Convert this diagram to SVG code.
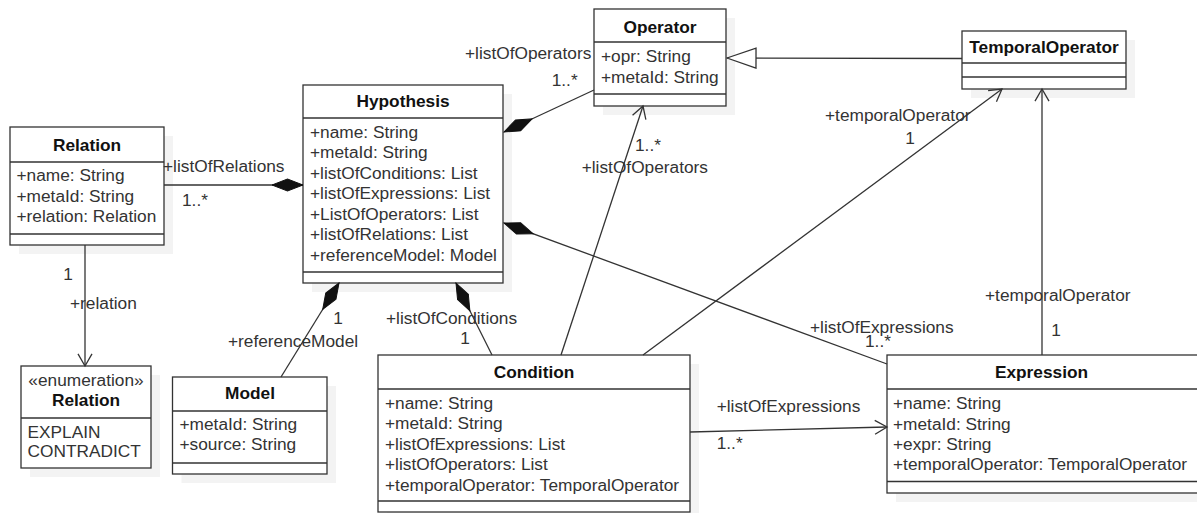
<svg xmlns="http://www.w3.org/2000/svg" width="1197" height="513" viewBox="0 0 1197 513">
  <style>
    .shadow { fill: #f3f3f3; }
    .box { fill: #ffffff; stroke: #333333; stroke-width: 1.3; }
    .sep { stroke: #333333; stroke-width: 1.3; }
    .t { font-family: "Liberation Sans", Arial, Helvetica, sans-serif; font-size: 17.3px; fill: #333333; }
    .h { font-weight: bold; fill: #111111; text-anchor: middle; }
    .c { text-anchor: middle; }
    .edge { fill: none; stroke: #333333; stroke-width: 1.3; }
  </style>
  <defs>
    <!-- navigable association end -->
    <marker id="open" viewBox="0 0 16 16" refX="14" refY="8" markerWidth="16" markerHeight="16" markerUnits="userSpaceOnUse" orient="auto">
      <path d="M1.9,1 L14,8 L1.9,15" fill="none" stroke="#333333" stroke-width="1.3"/>
    </marker>
    <!-- composition end (whole side) -->
    <marker id="diamond" viewBox="-1 -1 34 16" refX="0" refY="6.5" markerWidth="34" markerHeight="16" markerUnits="userSpaceOnUse" orient="auto">
      <path d="M0,6.5 L15.5,0.5 L31,6.5 L15.5,12.5 Z" fill="#111111" stroke="#111111" stroke-width="1"/>
    </marker>
    <!-- generalization end -->
    <marker id="triangle" viewBox="0 0 31 22" refX="30" refY="11" markerWidth="31" markerHeight="22" markerUnits="userSpaceOnUse" orient="auto">
      <path d="M1,1 L30,11 L1,21 Z" fill="#ffffff" stroke="#333333" stroke-width="1.3"/>
    </marker>
  </defs>

  <g id="operator">
    <rect class="shadow" x="603" y="18" width="132" height="97"/>
    <rect class="box" x="594" y="9" width="132" height="97"/>
    <line class="sep" x1="594" y1="42" x2="726" y2="42"/>
    <line class="sep" x1="594" y1="94" x2="726" y2="94"/>
    <text class="t h" x="660" y="32.5">Operator</text>
    <text class="t" x="601" y="62">+opr: String</text>
    <text class="t" x="601" y="82.5">+metaId: String</text>
  </g>

  <g id="temporal-operator">
    <rect class="shadow" x="971" y="40" width="164" height="58"/>
    <rect class="box" x="962" y="31" width="164" height="58"/>
    <line class="sep" x1="962" y1="63" x2="1126" y2="63"/>
    <line class="sep" x1="962" y1="77" x2="1126" y2="77"/>
    <text class="t h" x="1044" y="53">TemporalOperator</text>
  </g>

  <g id="hypothesis">
    <rect class="shadow" x="312" y="94" width="200" height="198"/>
    <rect class="box" x="303" y="85" width="200" height="198"/>
    <line class="sep" x1="303" y1="118" x2="503" y2="118"/>
    <line class="sep" x1="303" y1="272" x2="503" y2="272"/>
    <text class="t h" x="403" y="107">Hypothesis</text>
    <text class="t" x="310" y="137.7">+name: String</text>
    <text class="t" x="310" y="158.2">+metaId: String</text>
    <text class="t" x="310" y="178.8">+listOfConditions: List</text>
    <text class="t" x="310" y="199.3">+listOfExpressions: List</text>
    <text class="t" x="310" y="219.9">+ListOfOperators: List</text>
    <text class="t" x="310" y="240.4">+listOfRelations: List</text>
    <text class="t" x="310" y="261">+referenceModel: Model</text>
  </g>

  <g id="relation">
    <rect class="shadow" x="19" y="136" width="154" height="118"/>
    <rect class="box" x="10" y="127" width="154" height="118"/>
    <line class="sep" x1="10" y1="162" x2="164" y2="162"/>
    <line class="sep" x1="10" y1="234" x2="164" y2="234"/>
    <text class="t h" x="87" y="151">Relation</text>
    <text class="t" x="16.5" y="181">+name: String</text>
    <text class="t" x="16.5" y="201.5">+metaId: String</text>
    <text class="t" x="16.5" y="222">+relation: Relation</text>
  </g>

  <g id="relation-enum">
    <rect class="shadow" x="30" y="375" width="130" height="102"/>
    <rect class="box" x="21" y="366" width="130" height="102"/>
    <line class="sep" x1="21" y1="418" x2="151" y2="418"/>
    <text class="t c" x="86" y="386">«enumeration»</text>
    <text class="t h" x="86" y="406">Relation</text>
    <text class="t" x="27.5" y="438">EXPLAIN</text>
    <text class="t" x="27.5" y="456.5">CONTRADICT</text>
  </g>

  <g id="model">
    <rect class="shadow" x="181.5" y="386" width="154.5" height="97"/>
    <rect class="box" x="172.5" y="377" width="154.5" height="97"/>
    <line class="sep" x1="172.5" y1="411" x2="327" y2="411"/>
    <line class="sep" x1="172.5" y1="463" x2="327" y2="463"/>
    <text class="t h" x="250" y="399">Model</text>
    <text class="t" x="179.5" y="430">+metaId: String</text>
    <text class="t" x="179.5" y="450">+source: String</text>
  </g>

  <g id="condition">
    <rect class="shadow" x="387" y="364" width="312" height="157"/>
    <rect class="box" x="378" y="355" width="312" height="157"/>
    <line class="sep" x1="378" y1="389" x2="690" y2="389"/>
    <line class="sep" x1="378" y1="501" x2="690" y2="501"/>
    <text class="t h" x="534" y="377.7">Condition</text>
    <text class="t" x="385" y="408.5">+name: String</text>
    <text class="t" x="385" y="429">+metaId: String</text>
    <text class="t" x="385" y="449.5">+listOfExpressions: List</text>
    <text class="t" x="385" y="470">+listOfOperators: List</text>
    <text class="t" x="385" y="490.5">+temporalOperator: TemporalOperator</text>
  </g>

  <g id="expression">
    <rect class="shadow" x="896" y="364" width="311" height="138"/>
    <rect class="box" x="887" y="355" width="311" height="138"/>
    <line class="sep" x1="887" y1="389" x2="1198" y2="389"/>
    <line class="sep" x1="887" y1="481.5" x2="1198" y2="481.5"/>
    <text class="t h" x="1041.5" y="377.7">Expression</text>
    <text class="t" x="893" y="409.3">+name: String</text>
    <text class="t" x="893" y="430">+metaId: String</text>
    <text class="t" x="893" y="449.5">+expr: String</text>
    <text class="t" x="893" y="470">+temporalOperator: TemporalOperator</text>
  </g>

  <!-- associations, compositions, generalization (drawn above the node shadows) -->
  <g id="connectors">
    <path class="edge" d="M962,58.5 L727,58" marker-end="url(#triangle)"/>
    <path class="edge" d="M303,185 L164,185" marker-start="url(#diamond)"/>
    <path class="edge" d="M504,132 L594,90" marker-start="url(#diamond)"/>
    <path class="edge" d="M504,223 L887,364" marker-start="url(#diamond)"/>
    <path class="edge" d="M456,283 L492,355" marker-start="url(#diamond)"/>
    <path class="edge" d="M339,283 L281,377" marker-start="url(#diamond)"/>
    <path class="edge" d="M85,245 L85,366" marker-end="url(#open)"/>
    <path class="edge" d="M561,355 L643,106" marker-end="url(#open)"/>
    <path class="edge" d="M643,355 L1002,89" marker-end="url(#open)"/>
    <path class="edge" d="M1042,355 L1042,89" marker-end="url(#open)"/>
    <path class="edge" d="M690,432 L887,427" marker-end="url(#open)"/>

    <text class="t" x="163" y="172">+listOfRelations</text>
    <text class="t" x="182" y="206">1..*</text>
    <text class="t c" x="68" y="280">1</text>
    <text class="t" x="70" y="308.7">+relation</text>
    <text class="t" x="465" y="59">+listOfOperators</text>
    <text class="t" x="551.7" y="86">1..*</text>
    <text class="t c" x="338" y="324">1</text>
    <text class="t" x="228" y="346.7">+referenceModel</text>
    <text class="t" x="386" y="324.3">+listOfConditions</text>
    <text class="t c" x="465" y="344.3">1</text>
    <text class="t" x="635" y="151">1..*</text>
    <text class="t" x="581.7" y="172.7">+listOfOperators</text>
    <text class="t" x="825" y="121">+temporalOperator</text>
    <text class="t c" x="910" y="144">1</text>
    <text class="t" x="985" y="301">+temporalOperator</text>
    <text class="t c" x="1056" y="336">1</text>
    <text class="t" x="810" y="332.7">+listOfExpressions</text>
    <text class="t" x="865" y="347">1..*</text>
    <text class="t" x="716.7" y="412">+listOfExpressions</text>
    <text class="t" x="716.7" y="449">1..*</text>
  </g>
</svg>
